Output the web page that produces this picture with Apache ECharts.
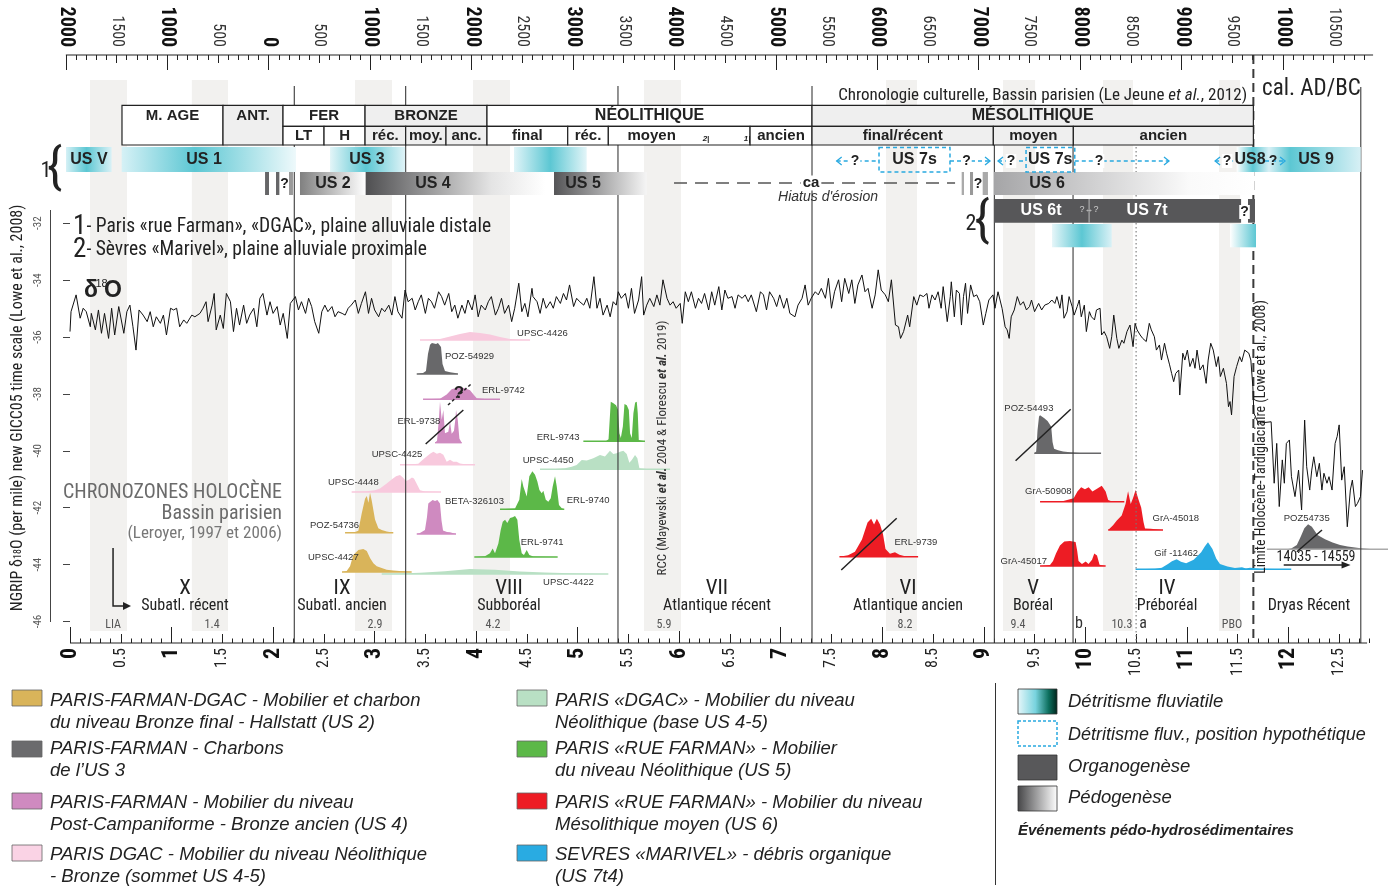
<!DOCTYPE html>
<html><head><meta charset="utf-8">
<script src="https://cdn.jsdelivr.net/npm/echarts@6.0.0/dist/echarts.min.js"></script>
<style>html,body{margin:0;padding:0;background:#fff}#c{width:1388px;height:887px}</style>
</head><body><div id="c"></div>
<script>
const NARROW = '"Liberation Sans Narrow","Arial Narrow","Roboto Condensed","DejaVu Sans Condensed","Liberation Sans",sans-serif';
const SANS = '"Liberation Sans",Arial,sans-serif';

// ================= DATA =================
// NGRIP d18O (per mil) vs age (ka cal BP)
const d18o = [
[0.00,-35.81],[0.01,-35.11],[0.06,-34.52],[0.10,-35.34],[0.13,-34.99],[0.16,-35.11],[0.20,-35.64],[0.21,-35.17],[0.25,-35.75],[0.28,-35.05],[0.31,-35.87],[0.34,-35.17],[0.38,-36.05],[0.41,-34.99],[0.44,-35.93],[0.48,-34.93],[0.53,-35.87],[0.56,-35.11],[0.59,-34.88],[0.62,-35.64],[0.65,-36.46],[0.68,-35.05],[0.72,-35.23],[0.76,-35.46],[0.79,-35.11],[0.82,-35.64],[0.85,-35.29],[0.89,-35.52],[0.92,-35.23],[0.95,-35.93],[0.99,-34.99],[1.02,-35.05],[1.05,-34.99],[1.08,-35.64],[1.12,-35.40],[1.15,-35.52],[1.20,-35.23],[1.23,-35.29],[1.28,-35.17],[1.31,-34.99],[1.34,-34.76],[1.36,-35.46],[1.40,-34.88],[1.42,-34.47],[1.44,-35.75],[1.48,-35.23],[1.51,-35.70],[1.54,-34.47],[1.58,-34.76],[1.61,-35.81],[1.64,-34.99],[1.67,-35.58],[1.71,-34.88],[1.74,-35.52],[1.77,-35.23],[1.81,-34.99],[1.84,-35.64],[1.87,-34.64],[1.90,-34.47],[1.94,-35.23],[1.97,-34.76],[2.00,-35.17],[2.04,-34.93],[2.07,-35.58],[2.10,-35.17],[2.14,-36.05],[2.17,-34.82],[2.22,-34.58],[2.25,-35.05],[2.28,-34.76],[2.32,-35.17],[2.35,-34.64],[2.38,-34.93],[2.41,-35.46],[2.45,-35.87],[2.48,-35.11],[2.51,-34.88],[2.54,-35.11],[2.58,-34.93],[2.61,-35.29],[2.64,-35.11],[2.68,-35.17],[2.71,-35.23],[2.74,-34.99],[2.77,-34.88],[2.81,-34.70],[2.84,-35.17],[2.87,-34.82],[2.91,-34.41],[2.94,-35.17],[2.97,-34.64],[3.00,-35.05],[3.04,-35.29],[3.07,-34.99],[3.10,-35.11],[3.14,-34.88],[3.17,-35.23],[3.20,-34.58],[3.23,-35.11],[3.27,-35.34],[3.30,-34.35],[3.33,-34.76],[3.37,-34.64],[3.40,-35.05],[3.43,-34.76],[3.46,-34.52],[3.50,-35.17],[3.53,-34.64],[3.56,-34.76],[3.59,-34.99],[3.63,-34.41],[3.66,-34.58],[3.69,-34.88],[3.73,-34.47],[3.76,-35.11],[3.79,-34.88],[3.82,-35.34],[3.86,-34.88],[3.89,-35.17],[3.92,-34.70],[3.96,-35.05],[3.99,-34.52],[4.02,-35.29],[4.05,-34.88],[4.09,-35.05],[4.12,-34.76],[4.15,-34.58],[4.19,-35.23],[4.22,-34.99],
[4.25,-34.64],[4.28,-35.17],[4.32,-34.88],[4.35,-35.46],[4.38,-34.99],[4.42,-34.11],[4.45,-35.11],[4.48,-34.82],[4.51,-35.29],[4.55,-34.29],[4.56,-34.58],[4.60,-34.76],[4.63,-35.17],[4.66,-34.64],[4.69,-34.99],[4.73,-34.76],[4.76,-34.99],[4.79,-34.58],[4.83,-34.82],[4.86,-34.47],[4.89,-34.70],[4.92,-34.17],[4.96,-34.93],[4.99,-34.64],[5.02,-34.76],[5.06,-34.88],[5.09,-34.64],[5.12,-34.99],[5.16,-33.88],[5.19,-34.99],[5.22,-34.64],[5.25,-35.23],[5.29,-34.88],[5.32,-35.29],[5.35,-34.76],[5.38,-34.88],[5.40,-34.41],[5.43,-34.64],[5.47,-34.47],[5.50,-34.99],[5.53,-34.29],[5.56,-35.17],[5.60,-34.70],[5.63,-33.88],[5.65,-35.23],[5.68,-34.88],[5.71,-34.64],[5.75,-34.93],[5.78,-34.52],[5.81,-34.88],[5.84,-33.99],[5.88,-34.64],[5.91,-34.88],[5.94,-34.76],[5.97,-34.99],[6.01,-34.82],[6.03,-35.52],[6.06,-34.41],[6.09,-34.76],[6.12,-34.41],[6.16,-34.99],[6.19,-34.64],[6.22,-34.82],[6.25,-34.47],[6.29,-35.05],[6.32,-34.41],[6.35,-34.88],[6.39,-34.23],[6.42,-35.05],[6.45,-34.35],[6.48,-34.64],[6.52,-34.58],[6.55,-34.99],[6.58,-34.52],[6.62,-34.64],[6.65,-34.52],[6.68,-34.76],[6.71,-34.52],[6.76,-35.11],[6.80,-34.41],[6.83,-34.52],[6.86,-35.05],[6.89,-34.41],[6.93,-34.64],[6.96,-34.93],[6.99,-34.52],[7.03,-34.99],[7.06,-34.64],[7.09,-35.17],[7.14,-35.29],[7.17,-34.88],[7.21,-34.64],[7.24,-34.17],[7.27,-34.88],[7.30,-34.64],[7.34,-34.41],[7.37,-34.52],[7.40,-34.29],[7.44,-34.64],[7.47,-33.94],[7.50,-34.99],[7.53,-34.41],[7.57,-33.99],[7.60,-34.76],[7.63,-33.94],[7.67,-34.47],[7.70,-33.99],[7.73,-34.82],[7.76,-34.17],[7.80,-33.82],[7.83,-34.41],[7.86,-34.29],[7.90,-34.99],[7.93,-34.52],[7.96,-33.64],[7.99,-34.35],[8.03,-34.52],[8.06,-34.76],[8.09,-33.99],[8.13,-35.58],[8.16,-35.64],[8.18,-36.05],[8.21,-35.81],[8.25,-35.23],[8.27,-35.64],[8.31,-34.58],[8.34,-34.88],[8.37,-34.52],
[8.405,-34.58],[8.44,-34.47],[8.46,-34.99],[8.49,-34.52],[8.52,-34.70],[8.55,-34.41],[8.58,-34.99],[8.60,-34.23],[8.64,-35.46],[8.67,-34.58],[8.68,-34.06],[8.71,-35.29],[8.73,-34.35],[8.76,-34.47],[8.78,-35.58],[8.80,-34.58],[8.82,-34.11],[8.84,-35.17],[8.87,-34.17],[8.90,-34.58],[8.93,-34.52],[8.96,-34.76],[8.995,-35.58],[9.02,-35.17],[9.05,-34.70],[9.09,-34.52],[9.11,-34.99],[9.14,-34.41],[9.18,-34.99],[9.21,-35.64],[9.23,-35.75],[9.25,-36.05],[9.27,-35.29],[9.30,-35.05],[9.33,-34.58],[9.36,-34.88],[9.39,-34.76],[9.42,-35.05],[9.45,-34.93],[9.47,-34.70],[9.50,-35.11],[9.54,-34.82],[9.57,-35.05],[9.60,-34.88],[9.64,-34.82],[9.67,-34.70],[9.70,-34.82],[9.72,-34.58],[9.75,-34.99],[9.77,-34.52],[9.79,-35.34],[9.82,-35.11],[9.84,-34.58],[9.87,-34.93],[9.89,-35.23],[9.92,-34.93],[9.94,-34.70],[9.96,-35.29],[9.99,-34.88],[10.01,-35.81],[10.04,-35.11],[10.06,-35.29],[10.09,-35.40],[10.11,-35.05],[10.145,-34.99],[10.16,-35.93],[10.185,-35.81],[10.21,-35.99],[10.24,-36.40],[10.26,-35.99],[10.28,-35.23],[10.31,-36.05],[10.33,-36.40],[10.36,-36.11],[10.38,-36.22],[10.41,-35.81],[10.44,-35.58],[10.47,-36.34],[10.49,-35.52],[10.51,-35.75],[10.54,-35.93],[10.565,-36.05],[10.60,-36.16],[10.63,-35.52],[10.65,-35.75],[10.68,-35.99],[10.70,-36.46],[10.73,-36.28],[10.75,-36.81],[10.78,-36.22],[10.80,-36.57],[10.83,-36.98],[10.85,-37.28],[10.87,-37.57],[10.89,-37.28],[10.92,-37.16],[10.93,-38.04],[10.96,-36.57],[10.98,-36.81],[11.005,-36.46],[11.03,-37.04],[11.06,-36.75],[11.08,-37.10],[11.10,-36.46],[11.13,-37.16],[11.16,-36.98],[11.19,-37.63],[11.21,-36.81],[11.235,-36.22],[11.26,-36.46],[11.29,-37.04],[11.31,-36.69],[11.33,-37.39],[11.36,-37.10],[11.39,-37.63],[11.41,-38.45],[11.425,-38.27],[11.44,-38.74],[11.465,-37.39],[11.49,-37.04],[11.52,-36.69],[11.54,-36.87],[11.57,-36.46],[11.61,-36.57],[11.63,-36.81],[11.65,-37.75],[11.66,-38.68],[11.705,-39.03],[11.83,-38.98],[11.86,-41.14],[11.885,-39.74],[11.91,-41.96],[11.94,-40.32],[11.96,-41.14],[11.98,-39.74],[12.01,-39.62],[12.03,-40.91],[12.065,-41.61],[12.10,-40.68],[12.13,-42.08],[12.16,-38.92],[12.18,-40.56],[12.21,-41.38],[12.23,-40.68],[12.25,-40.21],[12.28,-40.91],[12.305,-40.44],[12.33,-41.38],[12.35,-40.79],[12.38,-41.14],[12.40,-40.91],[12.43,-41.38],[12.46,-39.74],[12.48,-39.50],[12.50,-39.09],[12.525,-41.03],[12.55,-40.56],[12.58,-42.67],[12.61,-41.38],[12.63,-41.03],[12.66,-41.96],[12.68,-41.85],[12.71,-41.61],[12.73,-40.68]
];

// axes tick values / labels
const kaMajor = [0,1,2,3,4,5,6,7,8,9,10,11,12];
const kaMajorLabels = ['0','1','2','3','4','5','6','7','8','9','10','11','12'];
const kaHalf = [0.5,1.5,2.5,3.5,4.5,5.5,6.5,7.5,8.5,9.5,10.5,11.5,12.5];
const kaHalfLabels = ['0.5','1.5','2.5','3.5','4.5','5.5','6.5','7.5','8.5','9.5','10.5','11.5','12.5'];
const yTicks = [-32,-34,-36,-38,-40,-42,-44,-46];
const topYears = [-2000,-1500,-1000,-500,0,500,1000,1500,2000,2500,3000,3500,4000,4500,5000,5500,6000,6500,7000,7500,8000,8500,9000,9500,10000,10500];
const topLabels = ['2000','1500','1000','500','0','500','1000','1500','2000','2500','3000','3500','4000','4500','5000','5500','6000','6500','7000','7500','8000','8500','9000','9500','1000','10500'];

// chronozones: [centre ka, number, name]
const chronozones = [[1.133,'X','Subatl. récent'],[2.679,'IX','Subatl. ancien'],[4.324,'VIII','Subboréal'],[6.372,'VII','Atlantique récent'],[8.254,'VI','Atlantique ancien'],[9.485,'V','Boréal'],[10.805,'IV','Préboréal'],[12.203,'','Dryas Récent']];
// rapid climate events (grey bands): [start ka, end ka, label, label ka]
const climateEvents = [[0.197,0.561,'LIA',0.424],[1.20,1.556,'1.4',1.399],[2.807,3.171,'2.9',3.004],[3.969,4.334,'4.2',4.166],[5.653,6.018,'5.9',5.85],[8.037,8.342,'8.2',8.224],[9.189,9.505,'9.4',9.337],[10.174,10.47,'10.3',10.36],[11.317,11.524,'PBO',11.445]];
// zone boundaries (ka)
const boundaries = [2.209,3.306,5.397,7.308,9.104,9.879,10.50,11.655,12.713];

// cultural chronology (ka cal BP)
const cultureRow1 = [['M. AGE',0.512,1.507],['ANT.',1.507,2.098],['FER',2.098,2.906],['BRONZE',2.906,4.107],['NÉOLITHIQUE',4.107,7.308],['MÉSOLITHIQUE',7.308,11.655]];
const cultureRow2 = [['LT',2.098,2.502],['H',2.502,2.906],['réc.',2.906,3.306],['moy.',3.306,3.703],['anc.',3.703,4.107],['final',4.107,4.902],['réc.',4.902,5.302],['moyen',5.302,6.698],['ancien',6.698,7.308],['final/récent',7.308,9.094],['moyen',9.094,9.882],['ancien',9.882,11.655]];

// stratigraphic units: [label, start ka, end ka]
const usFluvial = [['US V',-0.039,0.41],['US 1',0.509,2.226],['US 3',2.561,3.30],['',4.373,5.089],['US 9',11.491,12.713]];
const usSoil = [['',1.921,1.96],['',2.029,2.062],['',2.157,2.196],['US 2',2.265,2.912],['US 4',2.912,4.68],['US 5',4.767,5.68],['',8.782,8.805],['',8.864,8.894],['',8.989,9.041],['US 6',9.1,11.665]];
const usOrgano = [['US 6t / US 7t',9.1,11.534],['',11.602,11.671]];
const usFluvial2 = [['',9.672,10.26],['',11.425,11.681]];
const usHypothetic = [['US 7s',7.968,8.667],['US 7s',9.416,9.896]];

// radiocarbon calibrated probability distributions: [ka, relative probability]
const dists = {
'UPSC-4426':[[3.447,0],[3.546,0.04],[3.644,0.12],[3.743,0.44],[3.841,0.75],[3.94,1],[4.038,0.88],[4.137,0.69],[4.235,0.38],[4.334,0.12],[4.432,0.04],[4.531,0]],
'POZ-54929':[[3.415,0],[3.477,0.03],[3.506,0.1],[3.526,0.65],[3.546,0.94],[3.565,1],[3.605,0.97],[3.624,1],[3.654,0.87],[3.669,0.32],[3.693,0.1],[3.743,0.06],[3.792,0.03],[3.821,0]],
'ERL-9742':[[3.477,0],[3.644,0.04],[3.71,0.4],[3.759,0.83],[3.824,1],[3.89,0.92],[3.94,0.75],[3.972,0.42],[4.006,0.08],[4.087,0.02],[4.235,0]],
'ERL-9738':[[3.595,0],[3.615,0.05],[3.634,0.6],[3.644,1],[3.661,0.56],[3.677,0.8],[3.693,0.23],[3.726,0.27],[3.743,0.51],[3.759,0.22],[3.782,0.29],[3.797,0.6],[3.802,0.8],[3.819,0.56],[3.835,0.1],[3.858,0]],
'UPSC-4425':[[3.25,0],[3.368,0.03],[3.43,0.08],[3.48,0.41],[3.546,0.85],[3.579,1],[3.613,0.85],[3.644,0.92],[3.677,0.77],[3.71,0.23],[3.743,0.38],[3.775,0.23],[3.808,0.23],[3.841,0.1],[3.89,0.03],[3.989,0]],
'UPSC-4448':[[2.774,0],[2.906,0.03],[3.004,0.1],[3.053,0.2],[3.119,0.5],[3.171,0.75],[3.211,0.93],[3.25,1],[3.279,0.85],[3.309,0.65],[3.338,0.72],[3.368,0.85],[3.388,0.8],[3.417,0.45],[3.447,0.1],[3.496,0.03],[3.654,0]],
'BETA-326103':[[3.415,0],[3.447,0.03],[3.496,0.12],[3.516,0.5],[3.529,0.9],[3.546,0.94],[3.572,1],[3.595,0.97],[3.618,1],[3.644,0.9],[3.659,0.4],[3.674,0.1],[3.713,0.06],[3.743,0.05],[3.802,0]],
'POZ-54736':[[2.709,0],[2.807,0.02],[2.84,0.05],[2.873,0.48],[2.906,0.85],[2.923,0.92],[2.939,0.75],[2.955,1],[2.972,0.8],[3.004,0.33],[3.037,0.11],[3.07,0.07],[3.119,0.03],[3.184,0]],
'UPSC-4427':[[2.679,0],[2.725,0.04],[2.758,0.25],[2.79,0.74],[2.84,0.96],[2.889,1],[2.923,0.91],[2.955,0.61],[2.988,0.38],[3.021,0.25],[3.07,0.17],[3.119,0.1],[3.184,0.06],[3.365,0]],
'UPSC-4422':[[3.07,0],[3.25,0.1],[3.447,0.25],[3.693,0.55],[3.94,1],[4.186,0.85],[4.432,0.5],[4.678,0.3],[4.925,0.15],[5.121,0.05],[5.302,0]],
'ERL-9741':[[3.982,0],[4.087,0.02],[4.136,0.09],[4.163,0.21],[4.186,0.09],[4.219,0.33],[4.242,0.66],[4.262,0.86],[4.285,0.91],[4.307,0.83],[4.334,0.95],[4.36,0.97],[4.383,1],[4.406,0.91],[4.425,0.42],[4.449,0.09],[4.471,0.05],[4.498,0.17],[4.524,0.05],[4.563,0.01],[4.803,0]],
'ERL-9740':[[4.235,0],[4.383,0.02],[4.425,0.25],[4.449,0.8],[4.465,0.6],[4.498,0.34],[4.524,0.87],[4.554,1],[4.58,0.91],[4.603,0.73],[4.623,0.51],[4.646,0.42],[4.662,0.49],[4.686,0.25],[4.711,0.2],[4.735,0.29],[4.754,0.6],[4.777,0.87],[4.794,0.6],[4.816,0.11],[4.843,0.03],[4.868,0]],
'ERL-9743':[[5.056,0],[5.28,0.01],[5.304,0.05],[5.326,0.99],[5.352,0.95],[5.378,0.9],[5.398,0.78],[5.411,0.2],[5.425,0.08],[5.445,0.37],[5.461,0.93],[5.484,0.9],[5.504,0.78],[5.516,0.2],[5.533,0.08],[5.549,0.7],[5.566,0.97],[5.582,0.99],[5.592,0.7],[5.602,0.03],[5.663,0]],
'UPSC-4450':[[4.629,0],[4.777,0.02],[4.875,0.05],[4.941,0.14],[4.99,0.23],[5.04,0.49],[5.089,0.46],[5.154,0.58],[5.22,0.75],[5.269,0.67],[5.318,0.98],[5.351,0.8],[5.384,0.84],[5.417,0.93],[5.45,0.98],[5.483,0.8],[5.509,0.35],[5.533,0.49],[5.565,0.75],[5.588,0.58],[5.608,0.05],[5.68,0.02],[5.91,0]],
'ERL-9739':[[7.578,0],[7.663,0.04],[7.731,0.13],[7.8,0.45],[7.855,0.9],[7.891,1],[7.919,0.85],[7.947,1],[7.978,0.85],[8.007,0.6],[8.032,0.2],[8.076,0.08],[8.125,0.12],[8.169,0.05],[8.224,0.01],[8.353,0]],
'POZ-54493':[[9.497,0],[9.516,0.05],[9.529,0.6],[9.544,0.97],[9.554,1],[9.593,0.93],[9.628,0.85],[9.652,0.75],[9.664,0.7],[9.677,0.3],[9.692,0.12],[9.731,0.08],[9.781,0.05],[9.849,0.03],[9.948,0.01],[10.155,0]],
'GrA-50908':[[9.554,0],[9.775,0.03],[9.885,0.21],[9.922,0.63],[9.959,0.9],[9.996,0.78],[10.033,0.9],[10.07,0.63],[10.107,0.78],[10.162,1],[10.2,0.63],[10.225,0.1],[10.263,0.02],[10.384,0]],
'GrA-45018':[[10.225,0],[10.273,0.12],[10.31,0.24],[10.358,0.36],[10.396,0.65],[10.421,0.97],[10.447,0.65],[10.47,0.8],[10.495,1],[10.521,0.78],[10.55,0.56],[10.573,0.2],[10.588,0.04],[10.643,0.03],[10.765,0]],
'GrA-45017':[[9.554,0],[9.652,0.04],[9.682,0.2],[9.711,0.5],[9.75,0.82],[9.793,0.98],[9.849,1],[9.904,0.96],[9.92,0.6],[9.933,0.2],[9.967,0.08],[10.004,0.18],[10.031,0.08],[10.066,0.25],[10.088,0.5],[10.115,0.42],[10.14,0.05],[10.2,0]],
'Gif -11462':[[10.495,0],[10.686,0.02],[10.753,0.06],[10.814,0.2],[10.853,0.3],[10.9,0.37],[10.942,0.28],[10.993,0.22],[11.067,0.35],[11.141,0.63],[11.178,0.85],[11.208,1],[11.252,0.75],[11.289,0.4],[11.326,0.2],[11.4,0.1],[11.474,0.05],[11.543,0.08],[11.582,0.03],[11.622,0.06],[11.72,0.02],[12.028,0]],
'POZ54735':[[11.788,0],[11.997,0.01],[12.028,0.03],[12.083,0.17],[12.121,0.5],[12.157,0.84],[12.194,1],[12.231,0.9],[12.287,0.57],[12.361,0.4],[12.435,0.27],[12.509,0.17],[12.583,0.11],[12.712,0.04],[12.804,0.01],[12.981,0]]
};

// ================= LAYOUT / STYLE =================
const X_MIN = -0.197, X_MAX = 12.981;
const TOP0 = 1.957, TOPK = 0.000999; // year BC(+)/AD(-) -> ka position on the upper scale
const kaOfYear = y => TOP0 + TOPK * y;
const COL = {pink:'#f8c9dd', grey:'#68686a', purple:'#cf8ac0', gold:'#d9b45a', lgreen:'#b9e0c4', green:'#5cb848', red:'#ed1c24', blue:'#29abe2'};
// distribution layout: baseline lane (page row), peak height, colour, label [ka, lane]
const distLayout = {
'UPSC-4426':{lane:340,h:8,c:COL.pink,lab:[4.403,333]},
'POZ-54929':{lane:374,h:31,c:COL.grey,lab:[3.693,356]},
'ERL-9742':{lane:399.3,h:12,c:COL.purple,lab:[4.058,390]},
'ERL-9738':{lane:442.7,h:41,c:COL.purple,lab:[3.225,421]},
'UPSC-4425':{lane:464.7,h:13,c:COL.pink,lab:[2.971,454]},
'UPSC-4448':{lane:492,h:17,c:COL.pink,lab:[2.541,482]},
'BETA-326103':{lane:534,h:34,c:COL.purple,lab:[3.693,501]},
'POZ-54736':{lane:532.7,h:40,c:COL.gold,lab:[2.364,525]},
'UPSC-4427':{lane:572,h:23,c:COL.gold,lab:[2.344,557]},
'UPSC-4422':{lane:574,h:5,c:COL.lgreen,lab:[4.659,582]},
'ERL-9741':{lane:557,h:41,c:COL.green,lab:[4.439,542]},
'ERL-9740':{lane:509.3,h:38,c:COL.green,lab:[4.892,500]},
'ERL-9743':{lane:441.3,h:40,c:COL.green,lab:[4.597,437]},
'UPSC-4450':{lane:469.3,h:19,c:COL.lgreen,lab:[4.459,460]},
'ERL-9739':{lane:556.7,h:38,c:COL.red,lab:[8.12,542]},
'POZ-54493':{lane:453.3,h:38,c:COL.grey,lab:[9.202,408]},
'GrA-50908':{lane:501.7,h:16,c:COL.red,lab:[9.406,491]},
'GrA-45018':{lane:530,h:40,c:COL.red,lab:[10.662,518]},
'GrA-45017':{lane:566,h:25,c:COL.red,lab:[9.165,561]},
'Gif -11462':{lane:569.3,h:27,c:COL.blue,lab:[10.68,553]},
'POZ54735':{lane:549.3,h:25,c:COL.grey,base:'#aaaaaa',lab:[11.954,518]}
};
const strikeLines = [[3.503,444,3.874,410,0],[7.596,570,8.142,518.3,0],[9.313,460.7,9.856,409.3,0],[12.083,551.7,12.331,530,0],[3.723,405,3.95,384,1]];
const boundaryTop = [86,86,86,86,127,127,147,55,87];
const boundaryKind = ['s','s','s','s','s','s','dot','dash','s'];
const greyCells = {'ANT.':1,'BRONZE':1,'réc.@2.906':1,'moy.':1,'anc.':1,'MÉSOLITHIQUE':1,'final/récent':1,'moyen@9.094':1,'ancien@9.882':1};
const cellTextKa = {'moyen@5.302':5.729};
const TEAL = '#5cc7d3';
const fluvialStops = [
 [[0,'#d4f0f5'],[0.45,TEAL],[1,'#d9f1f6']],
 [[0,'#d6f1f6'],[0.42,TEAL],[1,'#eef9fb']],
 [[0,'#e3f5f8'],[0.48,TEAL],[1,'#dff3f7']],
 [[0,'#e0f4f8'],[0.5,TEAL],[1,'#e3f5f8']],
 [[0,'#ffffff'],[0.13,TEAL],[0.26,'#d8f0f5'],[0.43,TEAL],[1,'#d7f0f5']]
];
const soilFill = ['#666668','#666668','#9a9a9a',[[0,'#808080'],[1,'#ffffff']],[[0,'#4f4f51'],[0.7,'#e4e4e4'],[1,'#ffffff']],[[0,'#555557'],[1,'#f5f5f5']],'#aaaaaa','#999999','#aaaaaa',[[0,'#a5a5a7'],[0.75,'#fafafa'],[1,'#ffffff']]];
const fluvial2Stops = [[[0,'#e6f6f9'],[0.5,TEAL],[1,'#d9f1f6']],[[0,'#ffffff'],[1,TEAL]]];
const hypoArrows = [[7.551,7.968,1,0],[8.667,9.061,0,1],[9.14,9.416,1,0],[9.896,10.824,0,1],[11.278,11.485,1,0],[11.77,11.967,0,1]];

const TS = {
 tbl:{font:`bold 15px ${SANS}`,fill:'#222'},
 tbl16:{font:`bold 16px ${SANS}`,fill:'#222'},
 mini:{font:`italic bold 8px ${SANS}`,fill:'#222'},
 us:{font:`bold 16px ${SANS}`,fill:'#222'},
 usW:{font:`bold 16px ${SANS}`,fill:'#ffffff'},
 q:{font:`bold 14px ${SANS}`,fill:'#222'},
 qb:{font:`bold 14px ${SANS}`,fill:'#222',backgroundColor:'#ffffff',padding:[0,1]},
 q2:{font:`bold 17px ${SANS}`,fill:'#222'},
 tiny:{font:`9px ${SANS}`,fill:'#cfcfcf'},
 chrono:{font:`17px ${NARROW}`,fill:'#222',rich:{i:{font:`italic 17px ${NARROW}`,fill:'#222'}}},
 cal:{font:`23px ${NARROW}`,fill:'#222'},
 intro:{font:`19.5px ${NARROW}`,fill:'#222',rich:{n:{font:`27px ${NARROW}`,fill:'#222'},t:{font:`19.5px ${NARROW}`,fill:'#222'}}},
 delta:{font:`bold 23px ${SANS}`,fill:'#222'},
 dsup:{font:`11px ${SANS}`,fill:'#222'},
 ytitle:{font:`16px ${NARROW}`,fill:'#222',rich:{a:{font:`16px ${NARROW}`,fill:'#222'},s:{font:`10px ${NARROW}`,fill:'#222'}}},
 cz1:{font:`20px ${NARROW}`,fill:'#6b6b6b'},
 cz2:{font:`17px ${NARROW}`,fill:'#777777'},
 rcc:{font:`13px ${NARROW}`,fill:'#333',rich:{b:{font:`italic bold 13px ${NARROW}`,fill:'#333'}}},
 limite:{font:`14px ${NARROW}`,fill:'#222'},
 ca:{font:`bold 15px ${SANS}`,fill:'#222',backgroundColor:'#ffffff',padding:[0,2]},
 hiatus:{font:`italic 14px ${SANS}`,fill:'#333'},
 brNum:{font:`22px ${NARROW}`,fill:'#222'},
 brace:{font:`50px ${NARROW}`,fill:'#222'},
 ab:{font:`16px ${NARROW}`,fill:'#333'},
 zNum:{font:`21px ${NARROW}`,fill:'#222'},
 zName:{font:`16px ${NARROW}`,fill:'#222'},
 evt:{font:`12px ${NARROW}`,fill:'#555'},
 dist:{font:`9.5px ${SANS}`,fill:'#333'}
};

// annotation texts: [text, ka, lane, style, align, rotation]
const notes = [
 ['Chronologie culturelle, Bassin parisien (Le Jeune {i|et al.}, 2012)',11.593,96,'chrono','right'],
 ['cal. AD/BC',11.741,89,'cal','left'],
 ['{n|1}{t|- Paris «rue Farman», «DGAC», plaine alluviale distale}',0.03,227,'intro','left'],
 ['{n|2}{t|- Sèvres «Marivel», plaine alluviale proximale}',0.03,250,'intro','left'],
 ['δ',0.138,291,'delta','left'],['18',0.250,284,'dsup','left'],['O',0.335,291,'delta','left'],
 ['{a|NGRIP δ}{s|18}{a|O (per mile) new GICC05 time scale (Lowe et al., 2008)}',-0.512,408,'ytitle','center',90],
 ['CHRONOZONES HOLOCÈNE',2.088,493,'cz1','right'],
 ['Bassin parisien',2.088,514,'cz1','right'],
 ['(Leroyer, 1997 et 2006)',2.088,534,'cz2','right'],
 ['RCC (Mayewski {b|et al.} 2004 & Florescu {b|et al.} 2019)',5.841,448,'rcc','center',90],
 ['Limite Holocène-Tardiglaciaire (Lowe et al., 2008)',11.731,437,'limite','center',90],
 ['14035 - 14559',12.272,557,'limite','center'],
 ['ca',7.298,183,'ca','center'],
 ["Hiatus d'érosion",7.466,197,'hiatus','center'],
 ['1',-0.236,171,'brNum','center'],['{',-0.15,170,'brace','center'],
 ['2',8.874,224,'brNum','center'],['{',8.983,223,'brace','center'],
 ['b',9.938,624,'ab','center'],['a',10.568,624,'ab','center'],
 ['US V',0.187,160,'us','center'],['US 1',1.32,160,'us','center'],['US 3',2.925,160,'us','center'],
 ['US 2',2.59,184,'us','center'],['US 4',3.575,184,'us','center'],['US 5',5.053,184,'us','center'],['US 6',9.623,184,'us','center'],
 ['US 6t',9.564,211,'usW','center'],['US 7t',10.608,211,'usW','center'],
 ['US 7s',8.318,160,'us','center'],['US 7s',9.654,160,'us','center'],['US8',11.622,160,'us','center'],['US 9',12.272,160,'us','center'],
 ['?',7.732,161,'qb','center'],['?',8.829,161,'qb','center'],['?',9.268,161,'qb','center'],['?',10.135,161,'qb','center'],['?',11.396,161,'qb','center'],['?',11.849,161,'q','center'],
 ['?',2.113,184,'q','center'],['?',8.943,184,'q','center'],['?',11.568,212,'qb','center'],
 ['?↔?',10.037,210,'tiny','center'],
 ['?',3.831,393,'q2','center'],
 ['2|',6.264,139,'mini','center'],['1|',6.668,139,'mini','center']
];

// ================= RENDER =================
function P(api, ka, lane){ return api.coord([ka, lane]); }
function grad(stops){ return new echarts.graphic.LinearGradient(0,0,1,0, stops.map(s=>({offset:s[0],color:s[1]}))); }
function rectBetween(api, x1, x2, y1, y2){ const a=P(api,x1,y1), b=P(api,x2,y2); return {x:a[0], y:a[1], width:b[0]-a[0], height:b[1]-a[1]}; }
function textEl(api, t, ka, lane, sk, align, rot){
  const p = P(api, ka, lane); const s = TS[sk];
  const style = Object.assign({}, s, {text:t, x:0, y:0, align:align||'left', textAlign:align||'left', verticalAlign:'middle', textVerticalAlign:'middle'});
  return {type:'text', x:p[0], y:p[1], rotation:(rot||0)*Math.PI/180, style};
}
function custom(name, items, render, z){
  return {type:'custom', name, xAxisIndex:0, yAxisIndex:1, z, silent:true, clip:false,
    data: items.map(()=>[0,300]),
    renderItem:(params, api)=>render(items[params.dataIndex], api)};
}

// table cells
const tableCells = [];
cultureRow1.forEach(c=>{ const span = (c[0]==='M. AGE'||c[0]==='ANT.'); tableCells.push({t:c[0],x1:c[1],x2:c[2],y1:105.3,y2:span?145:126.3,ty:116,tx:(c[1]+c[2])/2,grey:!!greyCells[c[0]],big:c[0].length>8}); });
cultureRow2.forEach(c=>{ const key=c[0]+'@'+c[1]; tableCells.push({t:c[0],x1:c[1],x2:c[2],y1:126.3,y2:145,ty:136,tx:(cellTextKa[key]!==undefined?cellTextKa[key]:(c[1]+c[2])/2),grey:!!(greyCells[key]||greyCells[c[0]]),big:false}); });

// bar items
const barItems = [];
usFluvial.forEach((u,i)=>barItems.push({x1:u[1],x2:u[2],y1:147,y2:172,fill:grad(fluvialStops[i])}));
usSoil.forEach((u,i)=>barItems.push({x1:u[1],x2:u[2],y1:172,y2:195,fill:Array.isArray(soilFill[i])?grad(soilFill[i]):soilFill[i]}));
usOrgano.forEach(u=>barItems.push({x1:u[1],x2:u[2],y1:199,y2:222.7,fill:'#575759'}));
usFluvial2.forEach((u,i)=>barItems.push({x1:u[1],x2:u[2],y1:224,y2:247.3,fill:grad(fluvial2Stops[i])}));

const distNames = Object.keys(dists);

const textItems = notes.slice();
chronozones.forEach(z=>{ if(z[1]) textItems.push([z[1],z[0],589,'zNum','center']); textItems.push([z[2],z[0],606,'zName','center']); });
climateEvents.forEach(e=>textItems.push([e[2],e[3],625,'evt','center']));
distNames.forEach(n=>{ const L=distLayout[n]; textItems.push([n,L.lab[0],L.lab[1],'dist','left']); });

const series = [
 custom('climate events', climateEvents, (b,api)=>({type:'rect', shape:rectBetween(api,b[0],b[1],80,631), style:{fill:'#f2f1ef'}}), 1),
 custom('radiocarbon', distNames, (n,api)=>{
   const pts = dists[n], L = distLayout[n];
   const top = pts.map(p=>P(api,p[0],L.lane - p[1]*L.h));
   const b0 = P(api,pts[0][0],L.lane), b1 = P(api,pts[pts.length-1][0],L.lane);
   return {type:'group', children:[
     {type:'polygon', shape:{points:[b0].concat(top,[b1])}, style:{fill:L.c}},
     {type:'line', shape:{x1:b0[0],y1:b0[1],x2:b1[0],y2:b1[1]}, style:{stroke:L.base||L.c, lineWidth:1.4}}
   ]};
 }, 2),
 custom('boundaries', boundaries, (k,api)=>{
   const i = boundaries.indexOf(k), kind = boundaryKind[i];
   const a = P(api,k,boundaryTop[i]), b = P(api,k,643);
   const st = {stroke: kind==='dot'?'#777':'#3a3a3a', lineWidth: kind==='dash'?2:1.1};
   if(kind==='dash') st.lineDash=[9,5];
   if(kind==='dot') st.lineDash=[1.5,2.5];
   return {type:'line', shape:{x1:a[0],y1:a[1],x2:b[0],y2:b[1]}, style:st};
 }, 3),
 {type:'line', name:'δ18O', xAxisIndex:0, yAxisIndex:0, data:d18o, showSymbol:false, symbol:'none', z:4, silent:true,
  lineStyle:{color:'#111', width:1}},
 custom('strike lines', strikeLines, (s,api)=>{
   const a=P(api,s[0],s[1]), b=P(api,s[2],s[3]);
   const st={stroke:'#222', lineWidth:1.5}; if(s[4]) st.lineDash=[3,2.5];
   return {type:'line', shape:{x1:a[0],y1:a[1],x2:b[0],y2:b[1]}, style:st};
 }, 5),
 custom('arrows', [0,1], (i,api)=>{
   if(i===0){ const a=P(api,0.424,548), b=P(api,0.424,606), c=P(api,0.571,606);
     return {type:'group',children:[
       {type:'polyline',shape:{points:[a,b,c]},style:{stroke:'#222',lineWidth:1.5,fill:'none'}},
       {type:'polygon',shape:{points:[[c[0]+3,c[1]],[c[0]-5,c[1]-4],[c[0]-5,c[1]+4]]},style:{fill:'#222'}}]}; }
   const a=P(api,11.954,565), b=P(api,12.583,565);
   return {type:'group',children:[
     {type:'line',shape:{x1:a[0],y1:a[1],x2:b[0],y2:b[1]},style:{stroke:'#222',lineWidth:1.3}},
     {type:'polygon',shape:{points:[[b[0]+3,b[1]],[b[0]-6,b[1]-3.5],[b[0]-6,b[1]+3.5]]},style:{fill:'#222'}}]};
 }, 5),
 custom('cultural table', tableCells, (c,api)=>{
   const r = rectBetween(api,c.x1,c.x2,c.y1,c.y2);
   const m = P(api,c.tx,c.ty);
   return {type:'group',children:[
     {type:'rect',shape:r,style:{fill:c.grey?'#efefef':'#ffffff',stroke:'#222',lineWidth:1.2}},
     {type:'text',x:m[0],y:m[1],style:Object.assign({},TS[c.big?'tbl16':'tbl'],{text:c.t,align:'center',textAlign:'center',verticalAlign:'middle',textVerticalAlign:'middle'})}
   ]};
 }, 6),
 custom('units', barItems, (b,api)=>({type:'rect', shape:rectBetween(api,b.x1,b.x2,b.y1,b.y2), style:{fill:b.fill}}), 6),
 custom('hypothetical', usHypothetic.concat(hypoArrows.map(a=>['arrow'].concat(a))), (h,api)=>{
   if(h[0]!=='arrow') return {type:'rect', shape:rectBetween(api,h[1],h[2],147.5,172), style:{fill:'none',stroke:'#29a9e0',lineWidth:1.5,lineDash:[4,3]}};
   const a=P(api,h[1],161), b=P(api,h[2],161);
   const ch=[{type:'line',shape:{x1:a[0],y1:a[1],x2:b[0],y2:b[1]},style:{stroke:'#29a9e0',lineWidth:1.3,lineDash:[4,3]}}];
   if(h[3]) ch.push({type:'polyline',shape:{points:[[a[0]+5,a[1]-4],[a[0],a[1]],[a[0]+5,a[1]+4]]},style:{stroke:'#29a9e0',lineWidth:1.3,fill:'none'}});
   if(h[4]) ch.push({type:'polyline',shape:{points:[[b[0]-5,b[1]-4],[b[0],b[1]],[b[0]-5,b[1]+4]]},style:{stroke:'#29a9e0',lineWidth:1.3,fill:'none'}});
   return {type:'group',children:ch};
 }, 7),
 custom('hiatus', [0], (i,api)=>{
   const a=P(api,5.949,183), b=P(api,8.717,183), c=P(api,10.037,199), d=P(api,10.037,222.7);
   return {type:'group',children:[
     {type:'line',shape:{x1:a[0],y1:a[1],x2:b[0],y2:b[1]},style:{stroke:'#555',lineWidth:1.4,lineDash:[13,8]}},
     {type:'line',shape:{x1:c[0],y1:c[1],x2:d[0],y2:d[1]},style:{stroke:'#bdbdbd',lineWidth:1}}]};
 }, 7),
 custom('axis lines', [0], (i,api)=>{
   const t0=P(api,kaOfYear(-2000),55), t1=P(api,12.834,55), b0=P(api,0,643), b1=P(api,12.775,643), l0=P(api,X_MIN,210), l1=P(api,X_MIN,622);
   const st={stroke:'#222',lineWidth:1.2};
   return {type:'group',children:[
     {type:'line',shape:{x1:t0[0],y1:t0[1],x2:t1[0],y2:t1[1]},style:st},
     {type:'line',shape:{x1:b0[0],y1:b0[1],x2:b1[0],y2:b1[1]},style:st},
     {type:'line',shape:{x1:l0[0]+0.5,y1:l0[1],x2:l1[0]+0.5,y2:l1[1]},style:{stroke:'#444',lineWidth:1}}]};
 }, 8),
 custom('texts', textItems, (t,api)=>textEl(api,t[0],t[1],t[2],t[3],t[4],t[5]), 9)
];

// ticks
const kaTenth=[]; for(let i=0;i<=128;i++) if(i%5) kaTenth.push(i/10);
const top1000=[], top500=[], top100=[];
for(let y=-2000;y<=10800;y+=100){ const k=kaOfYear(y); if(y%1000===0) top1000.push(k); else if(y%500===0) top500.push(k); else top100.push(k); }
const topLabelVals = topYears.map(kaOfYear);
function topFmt(v){ let best=0; topLabelVals.forEach((t,i)=>{ if(Math.abs(t-v)<Math.abs(topLabelVals[best]-v)) best=i; }); return (topYears[best]%1000===0?'{b|':'{n|')+topLabels[best]+'}'; }
function near(arr, labels, v){ let best=0; arr.forEach((t,i)=>{ if(Math.abs(t-v)<Math.abs(arr[best]-v)) best=i; }); return labels[best]; }

function xAx(pos, ticks, len, label){
  return {type:'value', position:pos, min:X_MIN, max:X_MAX, axisLine:{show:false}, splitLine:{show:false}, axisPointer:{show:false},
    axisTick:{show:true, inside:true, length:len, customValues:ticks, lineStyle:{color:'#222', width:1}},
    axisLabel: label ? Object.assign({show:true, rotate:90}, label) : {show:false}};
}
const xAxis = [
  xAx('bottom', kaMajor, 16, {customValues:kaMajor, margin:5, formatter:v=>'{b|'+near(kaMajor,kaMajorLabels,v)+'}', rich:{b:{fontFamily:NARROW, fontWeight:'bold', fontSize:22, color:'#111'}}}),
  xAx('bottom', kaHalf, 9, {customValues:kaHalf, margin:5, formatter:v=>'{n|'+near(kaHalf,kaHalfLabels,v)+'}', rich:{n:{fontFamily:NARROW, fontSize:16, color:'#222'}}}),
  xAx('bottom', kaTenth, 4.5, null),
  xAx('top', top1000, 15, {customValues:topLabelVals, margin:8, formatter:topFmt, rich:{b:{fontFamily:NARROW, fontWeight:'bold', fontSize:20, color:'#111'}, n:{fontFamily:NARROW, fontSize:16, color:'#333'}}}),
  xAx('top', top500, 8, null),
  xAx('top', top100, 5, null)
];

const option = {
  animation:false, backgroundColor:'#ffffff',
  grid:{left:50, right:0, top:55, bottom:244, containLabel:false},
  xAxis,
  yAxis:[
    {type:'value', position:'left', min:-46.756, max:-26.088, axisLine:{show:false}, splitLine:{show:false},
     axisTick:{show:true, inside:false, length:7, customValues:yTicks, lineStyle:{color:'#444'}},
     axisLabel:{show:true, customValues:yTicks, rotate:90, margin:6, fontSize:11, fontFamily:NARROW, color:'#555'}},
    {type:'value', min:55, max:643, inverse:true, show:false}
  ],
  series,
  graphic:{elements: buildLegend()}
};

function buildLegend(){
  const els=[];
  const IT = `italic 18.5px ${SANS}`;
  const txt=(x,y,t,font)=>els.push({type:'text',silent:true,style:{text:t,x,y,font:font||IT,fill:'#222',textVerticalAlign:'middle',verticalAlign:'middle'}});
  const sw=(x,y,w,h,fill,extra)=>els.push({type:'rect',silent:true,shape:{x,y,width:w,height:h},style:Object.assign({fill,stroke:'#666',lineWidth:0.8},extra||{})});
  const col1=[[COL.gold,'PARIS-FARMAN-DGAC - Mobilier et charbon','du niveau Bronze final - Hallstatt (US 2)'],
              ['#6b6b6d','PARIS-FARMAN - Charbons','de l’US 3'],
              [COL.purple,'PARIS-FARMAN - Mobilier du niveau','Post-Campaniforme - Bronze ancien (US 4)'],
              ['#fad3e5','PARIS DGAC - Mobilier du niveau Néolithique','- Bronze (sommet US 4-5)']];
  const col2=[[COL.lgreen,'PARIS «DGAC» - Mobilier du niveau','Néolithique (base US 4-5)'],
              [COL.green,'PARIS «RUE FARMAN» - Mobilier','du niveau Néolithique (US 5)'],
              [COL.red,'PARIS «RUE FARMAN» - Mobilier du niveau','Mésolithique moyen (US 6)'],
              [COL.blue,'SEVRES «MARIVEL» - débris organique','(US 7t4)']];
  const rows=[[690,701,723],[741,749,771],[793,803,825],[845,855,877]];
  col1.forEach((c,i)=>{ sw(12,rows[i][0],30,16,c[0]); txt(50,rows[i][1],c[1]); txt(50,rows[i][2],c[2]); });
  col2.forEach((c,i)=>{ sw(517,rows[i][0],30,16,c[0]); txt(555,rows[i][1],c[1]); txt(555,rows[i][2],c[2]); });
  els.push({type:'line',silent:true,shape:{x1:995.5,y1:683,x2:995.5,y2:885},style:{stroke:'#333',lineWidth:1}});
  sw(1018,689,39,25,new echarts.graphic.LinearGradient(0,0,1,0,[{offset:0,color:'#e8f7fa'},{offset:0.45,color:'#78d3de'},{offset:0.78,color:'#0d6f5e'},{offset:1,color:'#00231a'}]),{stroke:'#333'});
  sw(1018,721,39,25,'#ffffff',{stroke:'#29a9e0',lineWidth:1.5,lineDash:[3,2]});
  sw(1018,755,39,25,'#58585a',{stroke:'#333'});
  sw(1018,786,39,25,new echarts.graphic.LinearGradient(0,0,1,0,[{offset:0,color:'#454547'},{offset:1,color:'#ffffff'}]),{stroke:'#333'});
  txt(1068,702,'Détritisme fluviatile'); txt(1068,735,'Détritisme fluv., position hypothétique',`italic 18px ${SANS}`);
  txt(1068,767,'Organogenèse'); txt(1068,798,'Pédogenèse');
  txt(1018,831,'Événements pédo-hydrosédimentaires',`italic bold 15px ${SANS}`);
  return els;
}

const chart = echarts.init(document.getElementById('c'), null, {renderer:'canvas', width:1388, height:887});
chart.setOption(option);
</script></body></html>
